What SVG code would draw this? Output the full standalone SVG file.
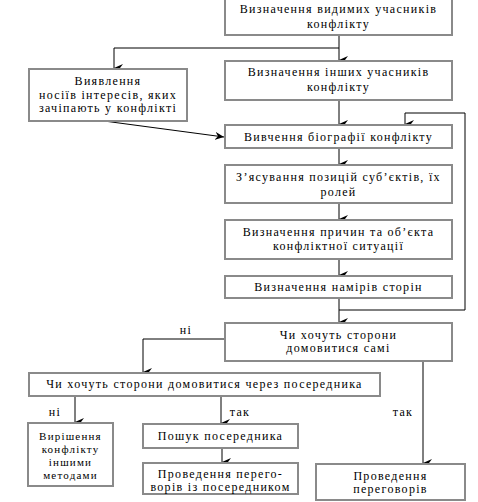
<svg xmlns="http://www.w3.org/2000/svg" width="478" height="502" viewBox="0 0 478 502">
<style>
.box{fill:#fff;stroke:#8a8a8a;stroke-width:2}
.t{font-family:"Liberation Serif","DejaVu Serif",serif;font-size:12px;letter-spacing:1.3px;fill:#000;text-anchor:middle}
.s{font-size:11px;letter-spacing:1.2px}
.c{fill:none;stroke:#000;stroke-width:1}
</style>
<defs>
<marker id="ar" viewBox="0 0 8 9" refX="4" refY="9" markerWidth="8" markerHeight="9" markerUnits="userSpaceOnUse" orient="auto-start-reverse">
<path d="M0,0 L4,3 L8,0 L4,9 Z" fill="#000"/>
</marker>
<marker id="ah" viewBox="0 0 9 8" refX="9" refY="4" markerWidth="9" markerHeight="8" markerUnits="userSpaceOnUse" orient="auto">
<path d="M0,0 L9,4 L0,8 L3,4 Z" fill="#000"/>
</marker>
</defs>
<rect width="478" height="502" fill="#fff"/>
<g id="connectors">
<path class="c" d="M339,35 V48 H114 V68" marker-end="url(#ar)"/>
<path class="c" d="M339,48 V60" marker-end="url(#ar)"/>
<path class="c" d="M339,100 V124" marker-end="url(#ar)"/>
<path class="c" d="M104,121 L224,137" marker-end="url(#ah)"/>
<path class="c" d="M339,148 V164" marker-end="url(#ar)"/>
<path class="c" d="M339,203 V219" marker-end="url(#ar)"/>
<path class="c" d="M339,259 V275" marker-end="url(#ar)"/>
<path class="c" d="M339,298 V322" marker-end="url(#ar)"/>
<path class="c" d="M339,310 H465 V113 H405 V124" marker-end="url(#ar)"/>
<path class="c" d="M225,339 H143 V372" marker-end="url(#ar)"/>
<path class="c" d="M423,361 V463" marker-end="url(#ar)"/>
<path class="c" d="M75,396 V422" marker-end="url(#ar)"/>
<path class="c" d="M221,396 V423" marker-end="url(#ar)"/>
<path class="c" d="M222,448 V462" marker-end="url(#ar)"/>
<text class="t" x="186" y="334">ні</text>
<text class="t" x="55" y="416">ні</text>
<text class="t" x="240" y="416">так</text>
<text class="t" x="403" y="416">так</text>
</g>
<g id="n1"><rect class="box" x="225" y="-1" width="227" height="36"/>
<text class="t" x="338.5" y="13">Визначення видимих учасників</text>
<text class="t" x="338.5" y="28">конфлікту</text></g>
<g id="n2"><rect class="box" x="29" y="69" width="158" height="52"/>
<text class="t" x="108" y="85">Виявлення</text>
<text class="t" x="108" y="99">носіїв інтересів, яких</text>
<text class="t" x="108" y="112">зачіпають у конфлікті</text></g>
<g id="n3"><rect class="box" x="225" y="61" width="227" height="39"/>
<text class="t" x="338.5" y="76">Визначення інших учасників</text>
<text class="t" x="338.5" y="91">конфлікту</text></g>
<g id="n4"><rect class="box" x="225" y="125" width="227" height="23"/>
<text class="t" x="338.5" y="141">Вивчення біографії конфлікту</text></g>
<g id="n5"><rect class="box" x="225" y="165" width="227" height="38"/>
<text class="t" x="338.5" y="181">З’ясування позицій суб’єктів, їх</text>
<text class="t" x="338.5" y="196">ролей</text></g>
<g id="n6"><rect class="box" x="225" y="220" width="227" height="39"/>
<text class="t" x="338.5" y="236">Визначення причин та об’єкта</text>
<text class="t" x="338.5" y="250">конфліктної ситуації</text></g>
<g id="n7"><rect class="box" x="225" y="276" width="227" height="22"/>
<text class="t" x="338.5" y="291">Визначення намірів сторін</text></g>
<g id="n8"><rect class="box" x="225" y="323" width="227" height="38"/>
<text class="t" x="338.5" y="339">Чи хочуть сторони</text>
<text class="t" x="338.5" y="352">домовитися самі</text></g>
<g id="n9"><rect class="box" x="29" y="373" width="351" height="23"/>
<text class="t" x="204.5" y="388">Чи хочуть сторони домовитися через посередника</text></g>
<g id="n10"><rect class="box" x="28" y="423" width="85" height="63"/>
<text class="t s" x="70.5" y="440">Вирішення</text>
<text class="t s" x="70.5" y="453">конфлікту</text>
<text class="t s" x="70.5" y="466">іншими</text>
<text class="t s" x="70.5" y="479">методами</text></g>
<g id="n11"><rect class="box" x="143" y="424" width="155" height="24"/>
<text class="t" x="220.5" y="440">Пошук посередника</text></g>
<g id="n12"><rect class="box" x="143" y="463" width="155" height="31"/>
<text class="t" x="220.5" y="478">Проведення перего-</text>
<text class="t" x="220.5" y="491">ворів із посередником</text></g>
<g id="n13"><rect class="box" x="316" y="464" width="149" height="36"/>
<text class="t" x="390.5" y="480">Проведення</text>
<text class="t" x="390.5" y="493">переговорів</text></g>
</svg>
